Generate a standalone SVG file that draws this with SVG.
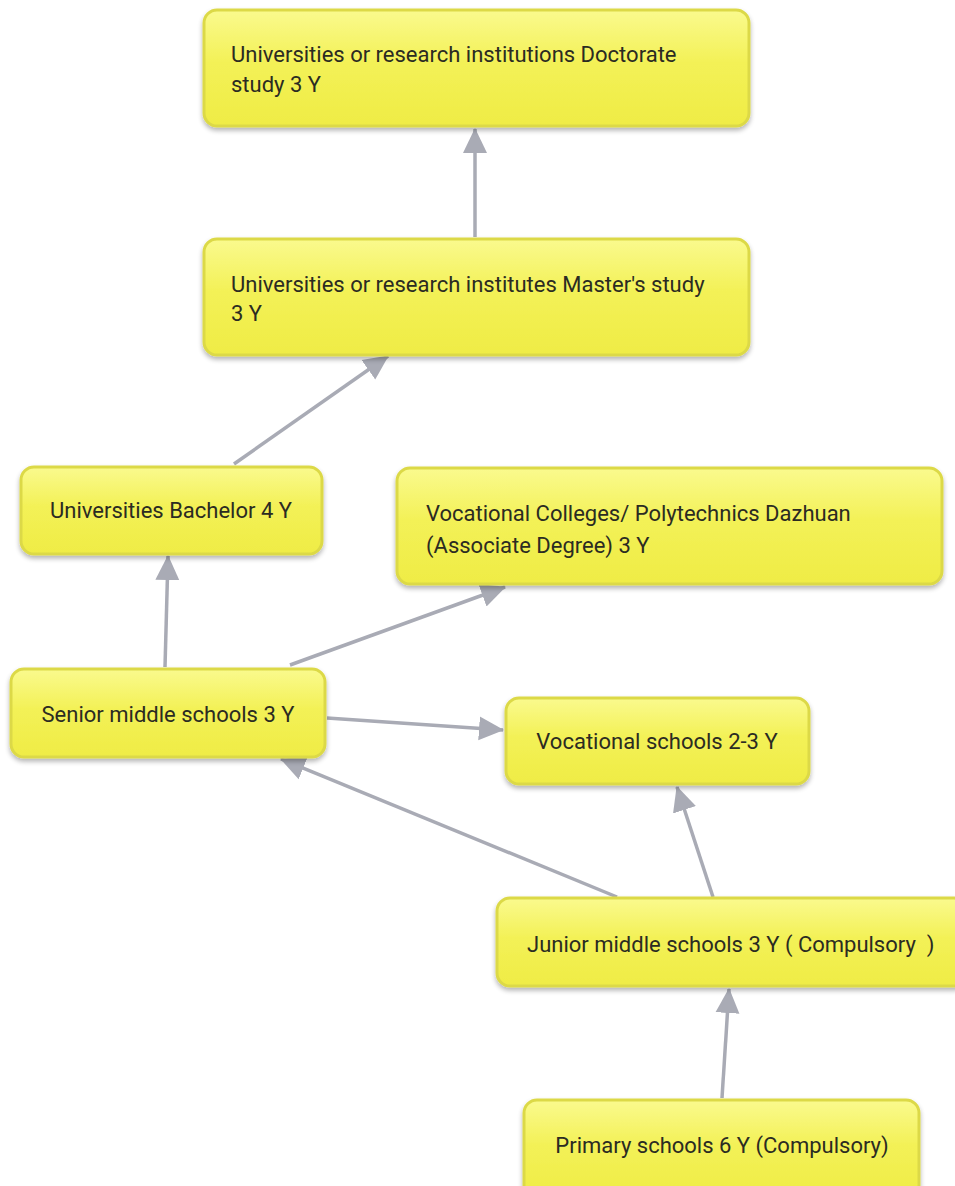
<svg xmlns="http://www.w3.org/2000/svg" width="955" height="1186" viewBox="0 0 955 1186">
  <defs>
    <linearGradient id="boxFill" x1="0" y1="0" x2="0" y2="1">
      <stop offset="0" stop-color="#fafa8e"/>
      <stop offset="0.45" stop-color="#f3f157"/>
      <stop offset="1" stop-color="#efec45"/>
    </linearGradient>
    <filter id="shadow" x="-10%" y="-20%" width="120%" height="150%">
      <feGaussianBlur in="SourceAlpha" stdDeviation="2.5"/>
      <feOffset dx="0" dy="3" result="b"/>
      <feComponentTransfer><feFuncA type="linear" slope="0.3"/></feComponentTransfer>
      <feMerge><feMergeNode/><feMergeNode in="SourceGraphic"/></feMerge>
    </filter>
    <marker id="arrow" markerUnits="userSpaceOnUse" markerWidth="26" markerHeight="26" viewBox="0 0 26 26" refX="24" refY="13" orient="auto">
      <path d="M0,1 L25,13 L0,25 Z" fill="#a9abb5"/>
    </marker>
  </defs>
  <style>
    .box { fill: url(#boxFill); stroke: #dcd946; stroke-width: 3; filter: url(#shadow); }
    .label { font-family: Roboto, "Liberation Sans", sans-serif; font-size: 22px; fill: #2b2b22; white-space: pre; }
    .mid { text-anchor: middle; }
    .edge { stroke: #a9abb5; stroke-width: 3.5; fill: none; marker-end: url(#arrow); }
  </style>
  <rect width="955" height="1186" fill="#ffffff"/>

  <g id="connectors">
    <line class="edge" x1="475" y1="237" x2="475" y2="129"/>
    <line class="edge" x1="234" y1="464" x2="388" y2="356"/>
    <line class="edge" x1="165" y1="667" x2="168" y2="556"/>
    <line class="edge" x1="290" y1="665" x2="505" y2="587"/>
    <line class="edge" x1="327" y1="718" x2="503" y2="730"/>
    <line class="edge" x1="617" y1="897" x2="281" y2="759"/>
    <line class="edge" x1="713" y1="897" x2="677" y2="787"/>
    <line class="edge" x1="722" y1="1098" x2="729" y2="989"/>
  </g>

  <g id="doctorate">
    <rect class="box" x="204" y="10" width="545" height="116" rx="13"/>
    <text class="label" x="231" y="62">Universities or research institutions Doctorate</text>
    <text class="label" x="231" y="92">study 3 Y</text>
  </g>

  <g id="master">
    <rect class="box" x="204" y="239" width="545" height="116" rx="13"/>
    <text class="label" x="231" y="292">Universities or research institutes Master's study</text>
    <text class="label" x="231" y="321">3 Y</text>
  </g>

  <g id="bachelor">
    <rect class="box" x="21" y="467" width="301" height="87" rx="13"/>
    <text class="label mid" x="171" y="518">Universities Bachelor 4 Y</text>
  </g>

  <g id="vocational-colleges">
    <rect class="box" x="397" y="468" width="545" height="116" rx="13"/>
    <text class="label" x="426" y="521">Vocational Colleges/ Polytechnics Dazhuan</text>
    <text class="label" x="426" y="553">(Associate Degree) 3 Y</text>
  </g>

  <g id="senior-middle">
    <rect class="box" x="11" y="669" width="314" height="88" rx="13"/>
    <text class="label mid" x="168" y="722">Senior middle schools 3 Y</text>
  </g>

  <g id="vocational-schools">
    <rect class="box" x="506" y="698" width="303" height="86" rx="13"/>
    <text class="label mid" x="657" y="749">Vocational schools 2-3 Y</text>
  </g>

  <g id="junior-middle">
    <rect class="box" x="497" y="898" width="470" height="88" rx="13"/>
    <text class="label" x="527" y="952">Junior middle schools 3 Y ( Compulsory  )</text>
  </g>

  <g id="primary">
    <rect class="box" x="524" y="1100" width="395" height="100" rx="13"/>
    <text class="label mid" x="722" y="1153">Primary schools 6 Y (Compulsory)</text>
  </g>
</svg>
